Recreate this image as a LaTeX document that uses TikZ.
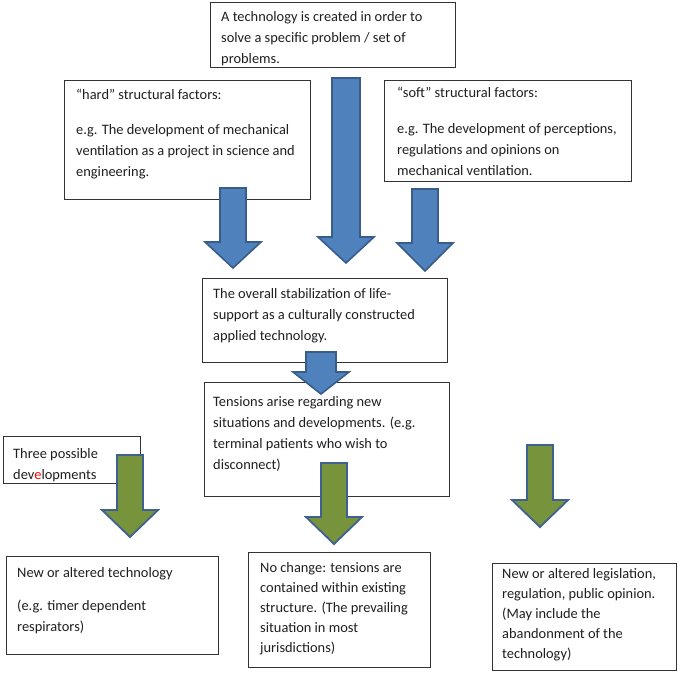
\documentclass[tikz,border=0pt]{standalone}
\usepackage{fontspec}
\setmainfont{Carlito}
\definecolor{abfill}{HTML}{4F81BD}
\definecolor{abline}{HTML}{385D8A}
\definecolor{agfill}{HTML}{77933C}
\definecolor{agline}{HTML}{3F6190}
\definecolor{boxline}{HTML}{333333}
% block arrow: cx, ytop, yhead, ytip, half shaft, half head, style
\newcommand{\blockarr}[7]{%
  \draw[#7] ({#1-#5},{#2}) -- ({#1+#5},{#2}) -- ({#1+#5},{#3}) -- ({#1+#6},{#3})
    -- ({#1},{#4}) -- ({#1-#6},{#3}) -- ({#1-#5},{#3}) -- cycle;}
\begin{document}
\begin{tikzpicture}[x=1pt,y=-1pt,
  box/.style={draw=boxline, line width=0.9pt, fill=white, anchor=north west, inner sep=0pt},
  txt/.style={anchor=north west, inner sep=0pt, align=left, text=black!88,
    font=\fontsize{14.4}{21}\selectfont},
  txtb/.style={txt, font=\fontsize{14.4}{20}\selectfont},
  bluearr/.style={fill=abfill, draw=abline, line width=1.6pt, line join=miter},
  greenarr/.style={fill=agfill, draw=agline, line width=1.8pt, line join=miter}]
\useasboundingbox (0,0) rectangle (685,673);
\fill[white] (0,0) rectangle (685,673);

% boxes
\node[box, minimum width=245pt, minimum height=65pt] (topbox) at (210,2) {};
\node[box, minimum width=246pt, minimum height=119pt] (hardbox) at (64,80) {};
\node[box, minimum width=247pt, minimum height=101pt] (softbox) at (384,80) {};
\node[box, minimum width=245pt, minimum height=84pt] (stabbox) at (202,278) {};
\node[box, minimum width=245pt, minimum height=114pt] (tensbox) at (204,382) {};
\node[box, minimum width=137pt, minimum height=47pt] (threebox) at (3,436) {};
\node[box, minimum width=212pt, minimum height=98pt] (techbox) at (6,556) {};
\node[box, minimum width=182pt, minimum height=115pt] (nochbox) at (248,552) {};
\node[box, minimum width=184pt, minimum height=107pt] (legbox) at (492,563) {};

% texts
\node[txt] (toptext) at (221,9) {\rule{0pt}{12pt}A technology is created in order to\\solve a specific problem / set of\\problems.};
\node[txt] (hardtext) at (76,87) {\rule{0pt}{12pt}“hard” structural factors:\\[14pt]e.g. The development of mechanical\\ventilation as a project in science and\\engineering.};
\node[txt] (softtext) at (397,85) {\rule{0pt}{12pt}“soft” structural factors:\\[15pt]e.g. The development of perceptions,\\regulations and opinions on\\mechanical ventilation.};
\node[txt] (stabtext) at (213,286) {\rule{0pt}{12pt}The overall stabilization of life-\\support as a culturally constructed\\applied technology.};
\node[txt] (tenstext) at (213,394) {\rule{0pt}{12pt}Tensions arise regarding new\\situations and developments. (e.g.\\terminal patients who wish to\\disconnect)};
\node[txt] (threetext) at (13,446) {\rule{0pt}{12pt}Three possible\\dev\textcolor{red}{e}lopments};
\node[txt] (techtext) at (17,565) {\rule{0pt}{12pt}New or altered technology\\[12pt](e.g. timer dependent\\respirators)};
\node[txtb] (nochtext) at (260,560) {\rule{0pt}{12pt}No change: tensions are\\contained within existing\\structure. (The prevailing\\situation in most\\jurisdictions)};
\node[txtb] (legtext) at (502,566) {\rule{0pt}{12pt}New or altered legislation,\\regulation, public opinion.\\(May include the\\abandonment of the\\technology)};

% block arrows
\blockarr{233}{188}{242}{268}{13}{28}{bluearr}
\blockarr{346}{78}{237}{263}{14}{28}{bluearr}
\blockarr{425}{189}{243}{271}{13}{28}{bluearr}
\blockarr{321}{352}{372}{394}{15}{28}{bluearr}
\blockarr{130}{455}{510}{537}{13}{28}{greenarr}
\blockarr{334}{463}{517}{544}{13}{28}{greenarr}
\blockarr{540}{445}{500}{527}{13}{28}{greenarr}
\end{tikzpicture}
\end{document}
